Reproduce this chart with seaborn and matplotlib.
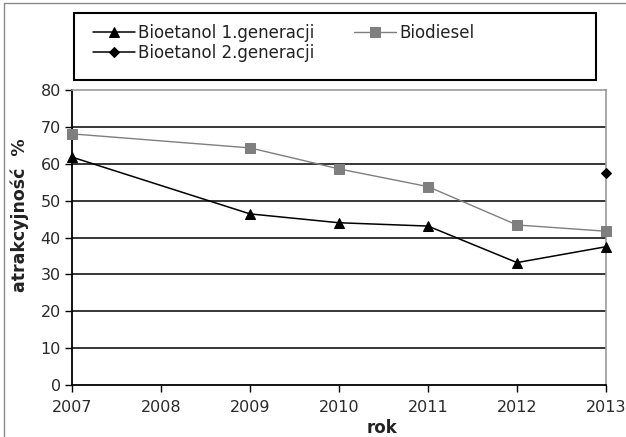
import matplotlib

matplotlib.use("Agg", force=True)
import matplotlib.pyplot as plt
from matplotlib.lines import Line2D
from matplotlib.patches import Rectangle
import pandas as pd
import seaborn as sns

YEARS = [2007, 2008, 2009, 2010, 2011, 2012, 2013]

BIO1_YEARS = [2007, 2009, 2010, 2011, 2012, 2013]
BIO1_VALUES = [61.8, 46.4, 44.0, 43.1, 33.2, 37.5]

DIESEL_YEARS = [2007, 2009, 2010, 2011, 2012, 2013]
DIESEL_VALUES = [68.1, 64.3, 58.6, 53.8, 43.4, 41.7]

BIO2_YEARS = [2013]
BIO2_VALUES = [57.4]

Y_TICKS = [0, 10, 20, 30, 40, 50, 60, 70, 80]

W, H = 626, 437


def fx(px):
    return px / W


def fy(py):
    return 1 - py / H


def main() -> None:
    sns.set_theme(style="white")
    plt.rcParams["font.family"] = ["DejaVu Sans"]

    fig = plt.figure(figsize=(W / 100, H / 100), dpi=100)
    fig.patch.set_facecolor("white")
    ax = fig.add_axes([fx(72), fy(385), fx(606) - fx(72), fy(90) - fy(385)])

    bio1 = pd.DataFrame({"rok": BIO1_YEARS, "val": BIO1_VALUES})
    diesel = pd.DataFrame({"rok": DIESEL_YEARS, "val": DIESEL_VALUES})
    bio2 = pd.DataFrame({"rok": BIO2_YEARS, "val": BIO2_VALUES})

    for y in Y_TICKS[1:-1]:
        ax.axhline(y, color="black", lw=1.1, zorder=0)

    sns.lineplot(data=bio1, x="rok", y="val", color="black", lw=1.1, marker="^",
                 markersize=7.5, markeredgecolor="black", label="Bioetanol 1.generacji",
                 ax=ax, clip_on=False, zorder=3)
    sns.lineplot(data=diesel, x="rok", y="val", color="#7f7f7f", lw=1.0, marker="s",
                 markersize=6.5, markeredgecolor="#7f7f7f", label="Biodiesel",
                 ax=ax, clip_on=False, zorder=3)
    sns.lineplot(data=bio2, x="rok", y="val", color="black", lw=1.1, marker="D",
                 markersize=5, markeredgecolor="black", label="Bioetanol 2.generacji",
                 ax=ax, clip_on=False, zorder=3)

    ax.set_xlim(YEARS[0], YEARS[-1])
    ax.set_ylim(0, 80)
    ax.set_xticks(YEARS)
    ax.set_xticklabels([str(y) for y in YEARS])
    ax.set_yticks(Y_TICKS)
    ax.tick_params(axis="both", labelsize=11.5, labelcolor="#2a2a2a", color="black",
                   length=5, width=1, direction="out", pad=3)
    ax.tick_params(axis="x", pad=6)
    ax.tick_params(left=True, bottom=True)

    for side in ["left", "bottom"]:
        ax.spines[side].set_color("black")
        ax.spines[side].set_linewidth(1.3)
    for side in ["top", "right"]:
        ax.spines[side].set_color("#999999")
        ax.spines[side].set_linewidth(1.2)

    ax.set_xlabel("rok", fontsize=12, weight="bold", color="#222222")
    ax.xaxis.set_label_coords((382 - 72) / 534, -0.115)
    ax.set_ylabel("atrakcyjność  %", fontsize=12.5, weight="bold", color="#222222")
    ax.yaxis.set_label_coords(-0.08, (385 - 215) / 295)

    # legend box
    handles, labels = ax.get_legend_handles_labels()
    order = [labels.index("Bioetanol 1.generacji"), labels.index("Bioetanol 2.generacji"),
             labels.index("Biodiesel")]
    ax.legend([handles[i] for i in order], [labels[i] for i in order], ncol=2,
              loc="upper left", bbox_to_anchor=(fx(93), fy(24)), bbox_transform=fig.transFigure,
              frameon=False, fontsize=12, handlelength=2.5, handletextpad=0.2,
              columnspacing=2.4, labelspacing=0.12, borderpad=0, borderaxespad=0,
              labelcolor="#222222")
    fig.add_artist(Rectangle((fx(74), fy(80)), fx(596) - fx(74), fy(13) - fy(80),
                             transform=fig.transFigure, fill=False, edgecolor="black", lw=1.5))

    # outer chart frame
    fig.add_artist(Line2D([fx(4), fx(4), fx(630)], [fy(440), fy(3), fy(3)],
                          transform=fig.transFigure, color="#8a8a8a", lw=1.0))

    fig.savefig("out.png", dpi=100)
    plt.close(fig)


if __name__ == "__main__":
    main()
